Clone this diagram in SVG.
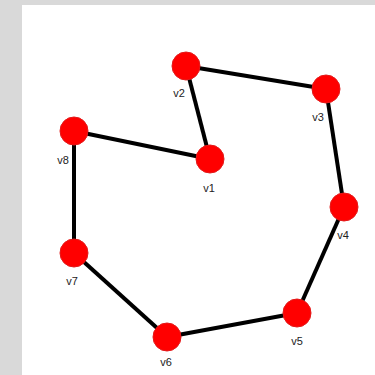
<svg xmlns="http://www.w3.org/2000/svg" width="375" height="375" viewBox="0 0 375 375">
<style>
.edge{stroke:#000;stroke-width:4;fill:none}
.node circle{fill:#ff0000;stroke:#e31a1a;stroke-width:1}
.node text{font-family:"Liberation Sans",Arial,sans-serif;font-size:11px;fill:#222;text-anchor:middle}
</style>
<rect x="0" y="0" width="375" height="375" fill="#d9d9d9"/>
<rect x="22" y="5" width="353" height="370" fill="#ffffff"/>
<g id="edges">
<line class="edge" x1="210" y1="159" x2="186" y2="66"/>
<line class="edge" x1="186" y1="66" x2="326" y2="89"/>
<line class="edge" x1="326" y1="89" x2="344" y2="207"/>
<line class="edge" x1="344" y1="207" x2="297" y2="313"/>
<line class="edge" x1="297" y1="313" x2="167" y2="337"/>
<line class="edge" x1="167" y1="337" x2="74" y2="253"/>
<line class="edge" x1="74" y1="253" x2="74" y2="131"/>
<line class="edge" x1="74" y1="131" x2="210" y2="159"/>
</g>
<g id="v1" class="node"><circle cx="210" cy="159" r="14"/><text x="209" y="192">v1</text></g>
<g id="v2" class="node"><circle cx="186" cy="66" r="14"/><text x="179" y="97">v2</text></g>
<g id="v3" class="node"><circle cx="326" cy="89" r="14"/><text x="318" y="121">v3</text></g>
<g id="v4" class="node"><circle cx="344" cy="207" r="14"/><text x="343" y="239">v4</text></g>
<g id="v5" class="node"><circle cx="297" cy="313" r="14"/><text x="297" y="345">v5</text></g>
<g id="v6" class="node"><circle cx="167" cy="337" r="14"/><text x="166" y="366">v6</text></g>
<g id="v7" class="node"><circle cx="74" cy="253" r="14"/><text x="72" y="285">v7</text></g>
<g id="v8" class="node"><circle cx="74" cy="131" r="14"/><text x="63" y="164">v8</text></g>
</svg>
